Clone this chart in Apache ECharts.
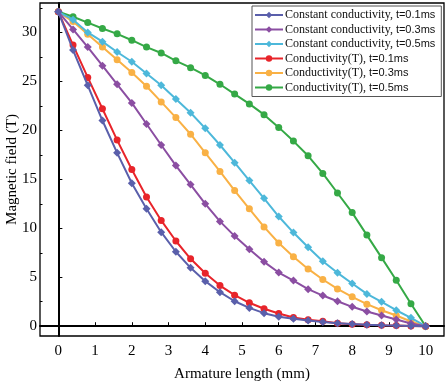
<!DOCTYPE html>
<html><head><meta charset="utf-8">
<script src="https://cdn.jsdelivr.net/npm/echarts@6/dist/echarts.min.js"></script>
<style>html,body{margin:0;padding:0;background:#fff}#c{width:446px;height:386px}</style>
</head><body><div id="c"></div>
<script>
const xs = [0,0.4,0.8,1.2,1.6,2.0,2.4,2.8,3.2,3.6,4.0,4.4,4.8,5.2,5.6,6.0,6.4,6.8,7.2,7.6,8.0,8.4,8.8,9.2,9.6,10.0];
const constT01 = [32.1,28.2,24.6,21.0,17.7,14.6,12.0,9.6,7.6,5.96,4.6,3.47,2.55,1.87,1.33,0.96,0.75,0.58,0.42,0.3,0.22,0.15,0.1,0.06,0.03,0];
const constT03 = [32.1,30.3,28.5,26.6,24.7,22.8,20.65,18.5,16.4,14.46,12.5,10.7,9.2,7.86,6.57,5.48,4.66,3.78,3.13,2.55,1.98,1.5,1.09,0.68,0.28,0];
const constT05 = [32.1,31.3,30.0,29.05,28.0,27.0,25.8,24.6,23.2,21.8,20.2,18.5,16.7,14.87,13.06,11.2,9.56,8.06,6.64,5.45,4.36,3.3,2.49,1.63,0.86,0];
const condT01 = [32.1,28.7,25.4,22.2,19.0,16.0,13.2,10.8,8.7,6.88,5.41,4.15,3.17,2.39,1.78,1.3,0.89,0.65,0.51,0.3,0.2,0.14,0.1,0.07,0.03,0];
const condT03 = [32.1,31.1,29.8,28.5,27.2,25.9,24.5,22.9,21.3,19.6,17.7,15.8,13.85,11.98,10.14,8.5,7.1,5.85,4.77,3.81,3.0,2.25,1.63,1.09,0.48,0];
const condT05 = [32.1,31.6,31.0,30.4,29.85,29.2,28.5,27.9,27.1,26.4,25.6,24.7,23.7,22.7,21.6,20.3,18.9,17.4,15.6,13.6,11.6,9.3,7.0,4.7,2.3,0];
const names = ['Constant conductivity, t=0.1ms','Constant conductivity, t=0.3ms','Constant conductivity, t=0.5ms','Conductivity(T), t=0.1ms','Conductivity(T), t=0.3ms','Conductivity(T), t=0.5ms'];
const xTicks = [0,1,2,3,4,5,6,7,8,9,10];
const yTicks = [0,5,10,15,20,25,30];
const yMinorTicks = [2.5,7.5,12.5,17.5,22.5,27.5,32.5];

const colors = ['#5a5fab','#8b4ea2','#4db8da','#e8242a','#f9b145','#35a946'];
const symbols = ['diamond','diamond','diamond','circle','circle','circle'];
const datasets = [constT01,constT03,constT05,condT01,condT03,condT05];
const font = 'Liberation Serif';

const series = datasets.map((d,k)=>({
  name: names[k], type:'line', data: xs.map((x,i)=>[x,d[i]]),
  symbol: symbols[k], symbolSize: k<3?8:7, showSymbol:true,
  lineStyle:{width:2,color:colors[k]}, itemStyle:{color:colors[k]},
  xAxisIndex:0, yAxisIndex:0, z: 10-k
}));

const chart = echarts.init(document.getElementById('c'));
chart.setOption({
  animation:false,
  textStyle:{fontFamily:font},
  grid:{left:40,right:2,top:3,bottom:50,outerBoundsMode:'none',containLabel:false,show:true,borderColor:'#000',borderWidth:1.3,backgroundColor:'transparent'},
  legend:{
    orient:'vertical', left:252, top:6,
    backgroundColor:'#fff', borderColor:'#555', borderWidth:1,
    padding:[3,6,3,2], itemWidth:28, itemHeight:8, itemGap:2.5,
    formatter: function(n){ const p = n.split(', '); return '{a|' + p[0] + ',} {b|' + p[1] + '}'; },
    textStyle:{fontFamily:font,fontSize:12,color:'#111',padding:[0,0,0,-3],
      rich:{a:{fontFamily:font,fontSize:12,color:'#111'},b:{fontFamily:'Liberation Sans',fontSize:11,color:'#111'}}},
    data:names
  },
  xAxis:{
    type:'value', min:-0.5, max:10.5,
    name:'Armature length (mm)', nameLocation:'middle', nameGap:31, nameMoveOverlap:false,
    nameTextStyle:{fontFamily:font,fontSize:15,color:'#000'},
    axisLine:{lineStyle:{color:'#000',width:2}},
    axisTick:{inside:true,length:4,customValues:xTicks,lineStyle:{color:'#000',width:1}},
    axisLabel:{customValues:xTicks,fontFamily:font,fontSize:15,color:'#000',margin:8},
    splitLine:{show:false}
  },
  yAxis:[{
    type:'value', min:-1, max:33,
    name:'Magnetic field (T)', nameLocation:'middle', nameGap:20, nameMoveOverlap:false,
    nameTextStyle:{fontFamily:font,fontSize:15,color:'#000'},
    axisLine:{lineStyle:{color:'#000',width:2}},
    axisTick:{inside:true,length:4,customValues:yTicks,lineStyle:{color:'#000',width:1}},
    axisLabel:{customValues:yTicks,fontFamily:font,fontSize:15,color:'#000',margin:3},
    splitLine:{show:false}
  },{
    type:'value', min:-1, max:33, position:'left',
    axisLine:{show:false},
    axisTick:{inside:true,length:2.5,customValues:yMinorTicks,lineStyle:{color:'#000',width:1}},
    axisLabel:{show:false}, splitLine:{show:false}
  }],
  series: series
});
</script></body></html>
